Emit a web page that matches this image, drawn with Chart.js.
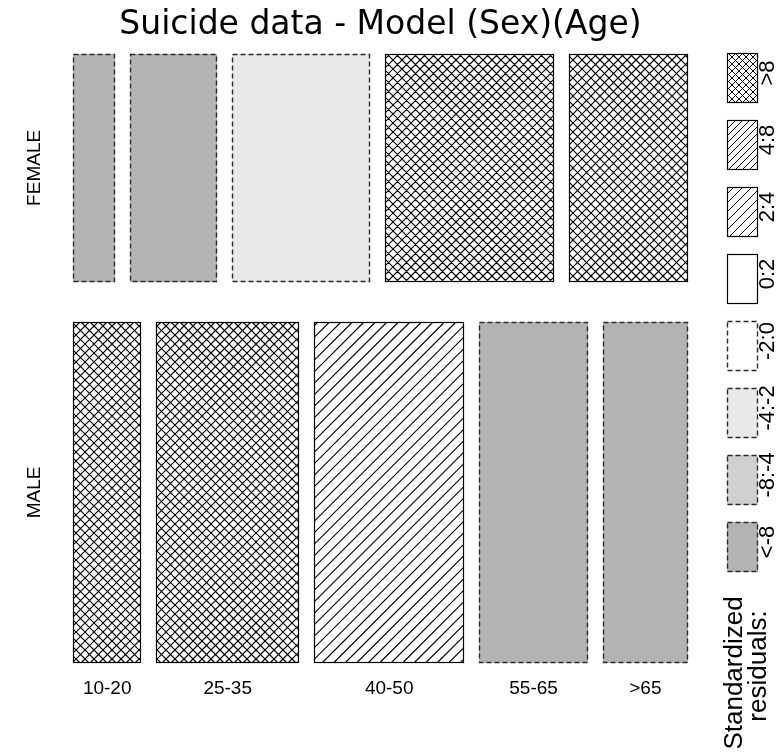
<!DOCTYPE html>
<html><head><meta charset="utf-8">
<script src="https://cdn.jsdelivr.net/npm/chart.js@4.4.1/dist/chart.umd.min.js"></script>
<style>html,body{margin:0;padding:0;background:#fff}canvas{display:block}</style>
</head><body>
<canvas id="c" width="778" height="755"></canvas>
<script>
// ---- data ----
const ageGroups = ['10-20', '25-35', '40-50', '55-65', '>65'];
const sexes = ['FEMALE', 'MALE'];
const femaleCounts = [1510, 3130, 4990, 6110, 4300];
const maleCounts = [3700, 7710, 8140, 5860, 4610];
const femaleResidualClass = ['<-8', '<-8', '-4:-2', '>8', '>8'];
const maleResidualClass = ['>8', '>8', '4:8', '<-8', '<-8'];
const legendClasses = ['>8', '4:8', '2:4', '0:2', '-2:0', '-4:-2', '-8:-4', '<-8'];
const legendTitle = ['Standardized', 'residuals:'];
const titleText = 'Suicide data - Model (Sex)(Age)';

// ---- styles ----
const FONT = "'Liberation Sans', Arial, Helvetica, sans-serif";
const TITLE_FONT = "'DejaVu Sans', 'Liberation Sans', sans-serif";
const classStyle = {
  '>8':    {fill: '#ffffff', pattern: 'cross', dash: false},
  '4:8':   {fill: '#ffffff', pattern: 'diag',  dash: false},
  '2:4':   {fill: '#ffffff', pattern: 'diag',  dash: false},
  '0:2':   {fill: '#ffffff', pattern: null,    dash: false},
  '-2:0':  {fill: '#ffffff', pattern: null,    dash: true},
  '-4:-2': {fill: '#e9e9e9', pattern: null,    dash: true},
  '-8:-4': {fill: '#d0d0d0', pattern: null,    dash: true},
  '<-8':   {fill: '#b3b3b3', pattern: null,    dash: true}
};
const X_GAP = 0.0244, Y_GAP = 0.0657;

function drawTile(ctx, x0, y0, x1, y1, cls, sp) {
  const st = classStyle[cls];
  x0 = Math.round(x0); x1 = Math.round(x1); y0 = Math.round(y0); y1 = Math.round(y1);
  ctx.save();
  ctx.fillStyle = st.fill;
  ctx.fillRect(x0, y0, x1 - x0, y1 - y0);
  if (st.pattern) {
    ctx.save();
    ctx.beginPath(); ctx.rect(x0, y0, x1 - x0, y1 - y0); ctx.clip();
    ctx.strokeStyle = '#000'; ctx.lineWidth = sp.lw;
    const h = y1 - y0;
    const s = st.pattern === 'cross' ? sp.cross : (cls === '4:8' ? sp.d48 : sp.d24);
    ctx.beginPath();
    const start = Math.floor((x0 - h) / s) * s;
    for (let k = start; k <= x1 + s; k += s) {
      ctx.moveTo(k, y1); ctx.lineTo(k + h, y0);
      if (st.pattern === 'cross') { ctx.moveTo(k, y0); ctx.lineTo(k + h, y1); }
    }
    ctx.stroke();
    ctx.restore();
  }
  ctx.strokeStyle = st.dash ? '#2a2a2a' : '#000';
  ctx.lineWidth = st.dash ? 1.4 : 1.2;
  ctx.setLineDash(st.dash ? [5, 3] : []);
  ctx.strokeRect(x0 + 0.5, y0 + 0.5, x1 - x0 - 1, y1 - y0 - 1);
  ctx.restore();
}

function rotText(ctx, txt, x, y, size) {
  ctx.save();
  ctx.translate(x, y); ctx.rotate(-Math.PI / 2);
  ctx.font = size + 'px ' + FONT;
  ctx.fillStyle = '#000'; ctx.textAlign = 'center'; ctx.textBaseline = 'middle';
  ctx.fillText(txt, 0, 0);
  ctx.restore();
}

const mosaicPlugin = {
  id: 'mosaic',
  afterDatasetsDraw(chart) {
    const ctx = chart.ctx, xs = chart.scales.x, ys = chart.scales.y;
    const rows = [femaleCounts, maleCounts];
    const classes = [femaleResidualClass, maleResidualClass];
    const totals = rows.map(r => r.reduce((a, b) => a + b, 0));
    const grand = totals[0] + totals[1];
    let yPos = 0;
    const sp = {cross: 9, d48: 11.5, d24: 11.5, lw: 1.2};
    rows.forEach((row, ri) => {
      const hFrac = (1 - Y_GAP * (rows.length - 1)) * totals[ri] / grand;
      const ya = yPos, yb = yPos + hFrac;
      let xPos = 0;
      row.forEach((v, ci) => {
        const wFrac = (1 - X_GAP * (row.length - 1)) * v / totals[ri];
        drawTile(ctx, xs.getPixelForValue(xPos), ys.getPixelForValue(ya),
                 xs.getPixelForValue(xPos + wFrac), ys.getPixelForValue(yb), classes[ri][ci], sp);
        if (ri === rows.length - 1) {
          ctx.save();
          ctx.font = '19px ' + FONT; ctx.fillStyle = '#000';
          ctx.textAlign = 'center'; ctx.textBaseline = 'middle';
          ctx.fillText(ageGroups[ci], xs.getPixelForValue(xPos + wFrac / 2), ys.getPixelForValue(1) + 26);
          ctx.restore();
        }
        xPos += wFrac + X_GAP;
      });
      rotText(ctx, sexes[ri], xs.getPixelForValue(0) - 38, ys.getPixelForValue((ya + yb) / 2), 19);
      yPos = yb + Y_GAP;
    });
    // legend
    const lx0 = 727, lx1 = 758, top = 53, bh = 50, step = 67;
    const lsp = {cross: 7, d48: 7, d24: 9, lw: 1};
    legendClasses.forEach((cls, i) => {
      const y0 = top + i * step;
      drawTile(ctx, lx0, y0, lx1, y0 + bh, cls, lsp);
      rotText(ctx, cls, 768, y0 + bh / 2 - 5, 22);
    });
    rotText(ctx, legendTitle[0], 735, 673, 26);
    rotText(ctx, legendTitle[1], 759, 666, 26);
  }
};

new Chart(document.getElementById('c'), {
  type: 'scatter',
  data: {datasets: []},
  options: {
    responsive: false,
    devicePixelRatio: 1,
    animation: false,
    layout: {padding: {left: 73, right: 90, top: 0, bottom: 92}},
    scales: {
      x: {type: 'linear', min: 0, max: 1, display: false},
      y: {type: 'linear', min: 0, max: 1, reverse: true, display: false}
    },
    plugins: {
      legend: {display: false},
      tooltip: {enabled: false},
      title: {display: true, text: titleText, color: '#000',
              font: {family: TITLE_FONT, size: 33, weight: 'normal'},
              padding: {top: 6, bottom: 8.4}}
    }
  },
  plugins: [mosaicPlugin]
});
</script>
</body></html>
